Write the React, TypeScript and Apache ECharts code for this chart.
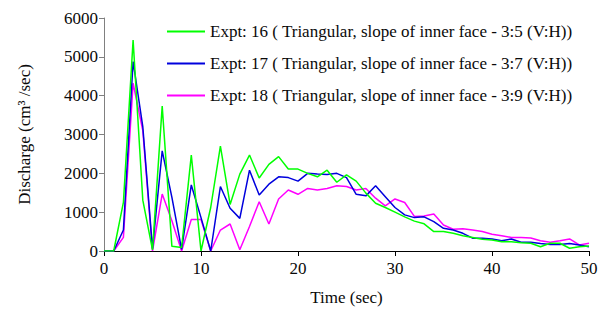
import React, { useEffect, useRef } from "react";
import * as echarts from "echarts";

const time = [
  0, 1, 2, 3, 4, 5, 6, 7, 8, 9, 10, 11, 12, 13, 14, 15, 16, 17, 18, 19, 20, 21, 22, 23, 24, 25,
  26, 27, 28, 29, 30, 31, 32, 33, 34, 35, 36, 37, 38, 39, 40, 41, 42, 43, 44, 45, 46, 47, 48, 49, 50,
];

const expt16 = [
  0, 0, 1250, 5430, 1310, 30, 3730, 120, 90, 2470, 0, 1120, 2700, 1200, 1980, 2470, 1880, 2230, 2430,
  2110, 2110, 2000, 1910, 2080, 1770, 1960, 1800, 1490, 1230, 1120, 1000, 880, 770, 700, 500, 500,
  455, 395, 350, 300, 285, 240, 240, 215, 200, 110, 200, 200, 70, 110, 130,
];

const expt17 = [
  0, 0, 540, 4880, 3200, 60, 2580, 1380, 40, 1700, 860, 0, 1660, 1100, 840, 2080, 1440, 1720, 1910,
  1890, 1800, 2000, 1980, 1970, 2000, 1890, 1460, 1420, 1680, 1400, 1120, 930, 860, 880, 755, 585,
  540, 455, 330, 330, 310, 265, 310, 225, 225, 195, 170, 170, 195, 155, 110,
];

const expt18 = [
  0, 0, 350, 4320, 3100, 0, 1465, 780, 0, 810, 810, 0, 540, 695, 30, 630, 1270, 695, 1340, 1570,
  1460, 1610, 1570, 1610, 1680, 1660, 1570, 1610, 1360, 1160, 1340, 1250, 890, 900, 950, 670, 560,
  570, 540, 500, 430, 390, 350, 345, 335, 265, 225, 265, 310, 155, 200,
];

const seriesNames = [
  "Expt: 16 ( Triangular, slope of inner face - 3:5 (V:H))",
  "Expt: 17 ( Triangular, slope of inner face - 3:7 (V:H))",
  "Expt: 18 ( Triangular, slope of inner face - 3:9 (V:H))",
];
const seriesColors = ["#00ff00", "#0000dd", "#ff00ff"];

const FONT = "Liberation Serif";
const INK = "#0a0a0a";

export default function App() {
  const ref = useRef<HTMLDivElement>(null);
  useEffect(() => {
    if (!ref.current) return;
    document.body.style.margin = "0";
    const chart = echarts.init(ref.current, null, { renderer: "svg" });
    const values = [expt16, expt17, expt18];
    chart.setOption({
      animation: false,
      grid: { left: 104, right: 16, top: 18, bottom: 63 },
      legend: {
        orient: "vertical",
        left: 162,
        top: 18,
        itemWidth: 38,
        itemHeight: 14,
        itemGap: 15,
        textStyle: { fontFamily: FONT, fontSize: 17, color: INK },
        data: seriesNames.map((n) => ({ name: n, icon: "path://M0,0 L38,0 L38,2 L0,2 Z" })),
      },
      xAxis: {
        type: "value",
        min: 0,
        max: 50,
        interval: 10,
        name: "Time (sec)",
        nameLocation: "middle",
        nameGap: 38,
        nameTextStyle: { fontFamily: FONT, fontSize: 17, color: INK },
        axisLine: { show: true, lineStyle: { color: "#000", width: 1 } },
        axisTick: { show: true, length: 5, lineStyle: { color: "#000" } },
        axisLabel: {
          fontFamily: FONT,
          fontSize: 17,
          color: INK,
          margin: 9,
          formatter: (v: number) => String(v),
        },
        splitLine: { show: false },
      },
      yAxis: {
        type: "value",
        min: 0,
        max: 6000,
        interval: 1000,
        name: "Discharge (cm³ /sec)",
        nameLocation: "middle",
        nameGap: 71,
        nameRotate: 90,
        nameTextStyle: { fontFamily: FONT, fontSize: 17, color: INK },
        axisLine: { show: true, lineStyle: { color: "#808080", width: 1 } },
        axisTick: { show: true, length: 5, lineStyle: { color: "#808080" } },
        axisLabel: {
          fontFamily: FONT,
          fontSize: 17,
          color: INK,
          margin: 6,
          formatter: (v: number) => String(v),
        },
        splitLine: { show: false },
      },
      series: values.map((vals, i) => ({
        name: seriesNames[i],
        type: "line",
        data: time.map((t, j) => [t, vals[j]]),
        symbol: "none",
        itemStyle: { color: seriesColors[i] },
        lineStyle: { color: seriesColors[i], width: 1.5 },
        z: 3 - i,
      })),
    });
    return () => chart.dispose();
  }, []);
  return <div ref={ref} style={{ width: 605, height: 314 }} />;
}
